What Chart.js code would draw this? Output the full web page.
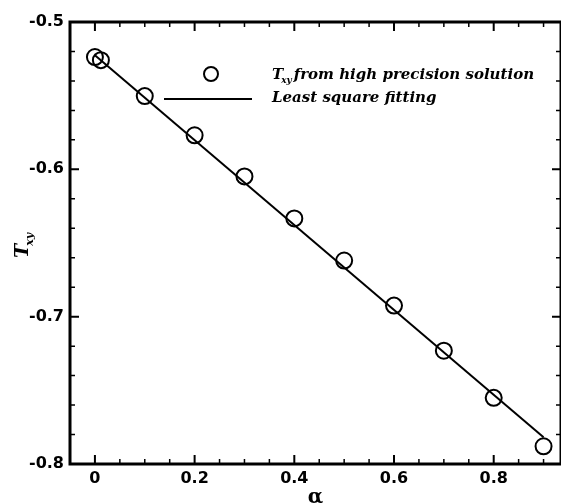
<!DOCTYPE html>
<html>
<head>
<meta charset="utf-8">
<script src="https://cdn.jsdelivr.net/npm/chart.js@4.4.1/dist/chart.umd.min.js"></script>
<style>
  html, body { margin: 0; padding: 0; background: #fff; }
  #wrap { width: 561px; height: 504px; }
</style>
</head>
<body>
<div id="wrap"><canvas id="c" width="561" height="504"></canvas></div>
<script>
// data
var alpha = [0, 0.012, 0.1, 0.2, 0.3, 0.4, 0.5, 0.6, 0.7, 0.8, 0.9];
var txy   = [-0.5238, -0.5259, -0.5503, -0.5769, -0.6048, -0.6333, -0.6619, -0.6925, -0.7231, -0.7551, -0.7880];
var fitAlpha = [0, 0.9];
var fitTxy   = [-0.5225, -0.7818];

var xTicks = [0, 0.2, 0.4, 0.6, 0.8];
var yTicks = [-0.8, -0.7, -0.6, -0.5];
var xMinor = [-0.05, 0.05, 0.1, 0.15, 0.25, 0.3, 0.35, 0.45, 0.5, 0.55, 0.65, 0.7, 0.75, 0.85, 0.9];
var yMinor = [-0.78, -0.76, -0.74, -0.72, -0.68, -0.66, -0.64, -0.62, -0.58, -0.56, -0.54, -0.52];

var pts = [];
for (var i = 0; i < alpha.length; i++) pts.push({x: alpha[i], y: txy[i]});
var fit = [];
for (var i = 0; i < fitAlpha.length; i++) fit.push({x: fitAlpha[i], y: fitTxy[i]});

// frame + inward ticks, like the tecplot style
var framePlugin = {
  id: 'frame',
  afterDraw: function(chart) {
    var ctx = chart.ctx, a = chart.chartArea;
    var xs = chart.scales.x, ys = chart.scales.y;
    ctx.save();
    ctx.strokeStyle = '#000';
    ctx.lineWidth = 3;
    ctx.strokeRect(a.left, a.top, a.right - a.left, a.bottom - a.top);
    ctx.lineWidth = 2;
    function tickX(v, len) {
      var p = xs.getPixelForValue(v);
      ctx.beginPath();
      ctx.moveTo(p, a.bottom); ctx.lineTo(p, a.bottom - len);
      ctx.moveTo(p, a.top); ctx.lineTo(p, a.top + len);
      ctx.stroke();
    }
    function tickY(v, len) {
      var p = ys.getPixelForValue(v);
      ctx.beginPath();
      ctx.moveTo(a.left, p); ctx.lineTo(a.left + len, p);
      ctx.moveTo(a.right, p); ctx.lineTo(a.right - len, p);
      ctx.stroke();
    }
    xTicks.forEach(function(v) { tickX(v, 9); });
    yTicks.forEach(function(v) { tickY(v, 9); });
    ctx.lineWidth = 1.5;
    xMinor.forEach(function(v) { tickX(v, 5); });
    yMinor.forEach(function(v) { tickY(v, 5); });

    // y axis title T_xy, rotated
    ctx.fillStyle = '#000';
    ctx.translate(28, 250);
    ctx.rotate(-Math.PI / 2);
    ctx.textBaseline = 'alphabetic';
    ctx.font = 'italic bold 19px "DejaVu Serif"';
    ctx.fillText('T', -8, 0);
    var tw = ctx.measureText('T').width;
    ctx.font = 'italic bold 11px "DejaVu Serif"';
    ctx.fillText('xy', -8 + tw - 2, 5);
    ctx.restore();

    // legend
    ctx.save();
    ctx.strokeStyle = '#000';
    ctx.fillStyle = '#000';
    ctx.lineWidth = 2;
    ctx.beginPath();
    ctx.arc(211, 74, 7, 0, Math.PI * 2);
    ctx.stroke();
    ctx.beginPath();
    ctx.moveTo(164, 99); ctx.lineTo(252, 99);
    ctx.stroke();
    ctx.textBaseline = 'alphabetic';
    ctx.font = 'italic bold 15px "DejaVu Serif"';
    ctx.fillText('T', 272, 79);
    var w = ctx.measureText('T').width;
    ctx.font = 'italic bold 9px "DejaVu Serif"';
    ctx.fillText('xy', 272 + w - 2, 83);
    var w2 = ctx.measureText('xy').width;
    ctx.font = 'italic bold 15px "DejaVu Serif"';
    ctx.fillText('from high precision solution', 272 + w + w2, 79);
    ctx.fillText('Least square fitting', 272, 102);
    ctx.restore();
  }
};

new Chart(document.getElementById('c'), {
  type: 'scatter',
  data: {
    datasets: [
      {
        label: 'Least square fitting',
        data: fit,
        showLine: true,
        borderColor: '#000',
        borderWidth: 2,
        pointRadius: 0,
        fill: false
      },
      {
        label: 'Txy from high precision solution',
        data: pts,
        showLine: false,
        pointStyle: 'circle',
        pointRadius: 8,
        pointBorderWidth: 2,
        pointBorderColor: '#000',
        pointBackgroundColor: 'rgba(255,255,255,0)'
      }
    ]
  },
  options: {
    responsive: false,
    animation: false,
    layout: { autoPadding: false, padding: { top: 22, right: 0, left: 0, bottom: 0 } },
    plugins: { legend: { display: false }, tooltip: { enabled: false } },
    scales: {
      x: {
        type: 'linear',
        min: -0.05,
        max: 0.935,
        afterBuildTicks: function(s) { s.ticks = xTicks.map(function(v) { return {value: v}; }); },
        afterFit: function(s) { s.height = 40; },
        grid: { display: false, drawTicks: false },
        border: { display: false },
        ticks: {
          padding: 5,
          color: '#000',
          font: { family: '"DejaVu Sans"', size: 16, weight: 'bold' },
          maxRotation: 0,
          callback: function(v) { return String(Math.round(v * 10) / 10); }
        },
        title: {
          display: true,
          text: 'α',
          color: '#000',
          font: { family: '"DejaVu Serif"', size: 20, weight: 'bold' },
          padding: { top: 0, bottom: -6 }
        }
      },
      y: {
        type: 'linear',
        min: -0.8,
        max: -0.5,
        afterBuildTicks: function(s) { s.ticks = yTicks.map(function(v) { return {value: v}; }); },
        afterFit: function(s) { s.width = 70; },
        grid: { display: false, drawTicks: false },
        border: { display: false },
        ticks: {
          padding: 6,
          color: '#000',
          font: { family: '"DejaVu Sans"', size: 16, weight: 'bold' },
          callback: function(v) { return v.toFixed(1); }
        }
      }
    }
  },
  plugins: [framePlugin]
});
</script>
</body>
</html>
